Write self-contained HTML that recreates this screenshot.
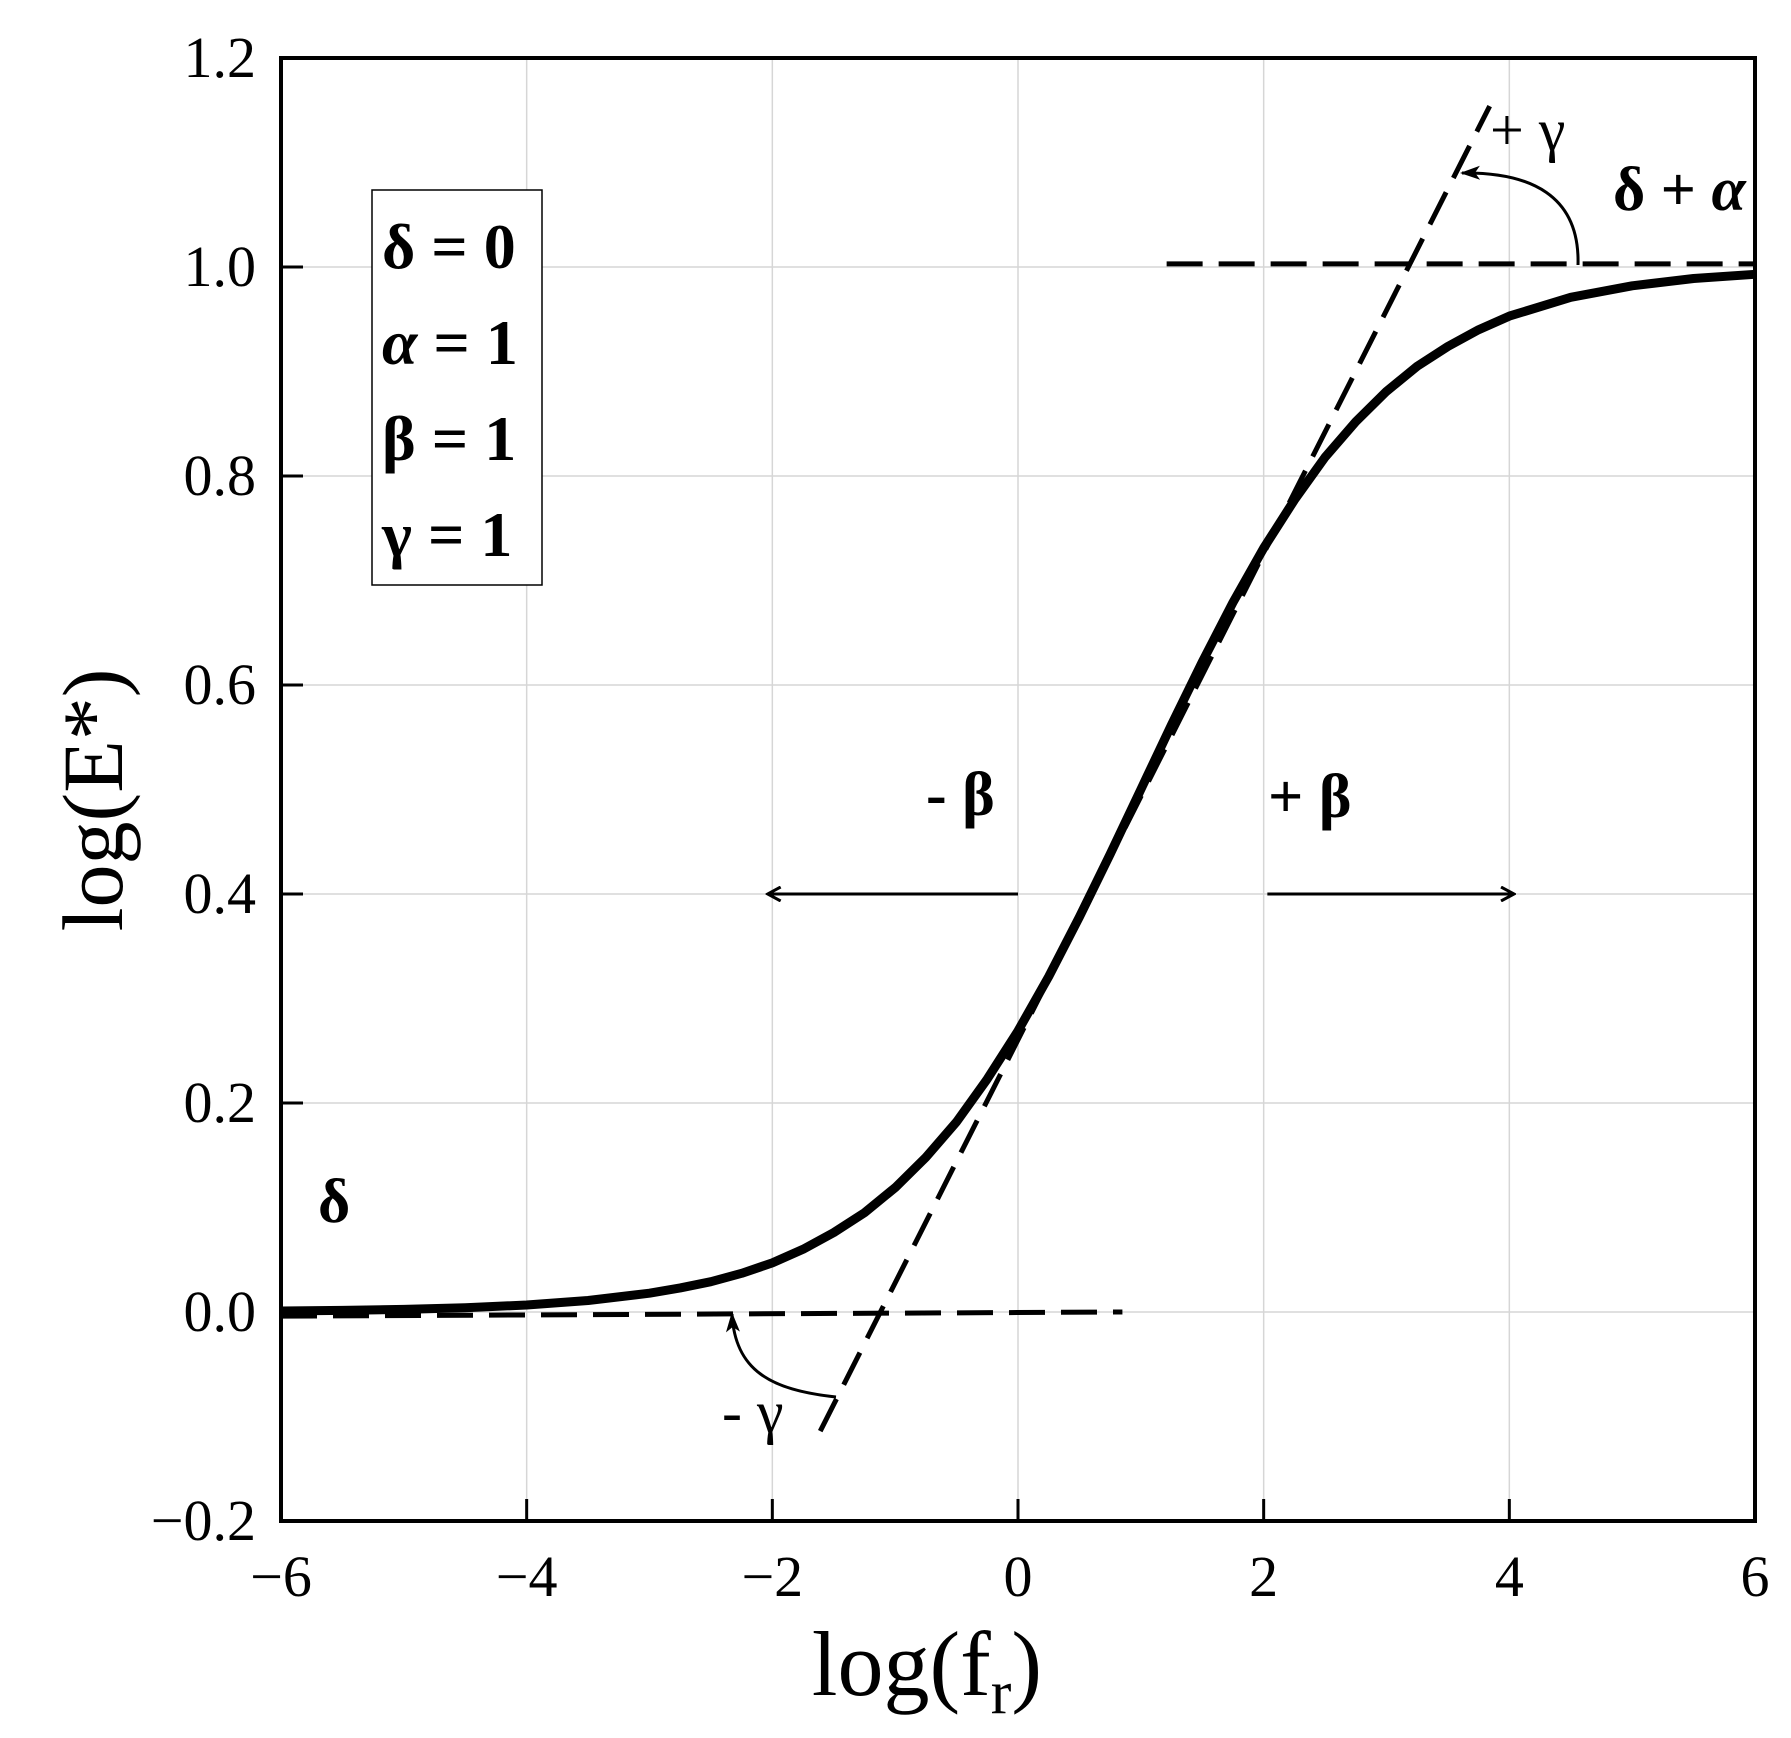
<!DOCTYPE html>
<html><head><meta charset="utf-8"><style>
body{margin:0;background:#fff}
svg{display:block}
text{font-family:"Liberation Serif",serif;fill:#000}
</style></head><body>
<svg id="chart" width="1791" height="1738" viewBox="0 0 1791 1738">
<defs>
<marker id="ah" markerWidth="16" markerHeight="16" refX="13" refY="8" orient="auto" markerUnits="userSpaceOnUse"><path d="M1,1 L14,8 L1,15" fill="none" stroke="#000" stroke-width="3"/></marker>
<marker id="ahf" markerWidth="22" markerHeight="20" refX="18" refY="9" orient="auto" markerUnits="userSpaceOnUse"><path d="M0,2 L20,9 L0,16 L5,9 Z" fill="#000"/></marker>
</defs>
<g id="grid"></g>
<g id="ticks"></g>
<g id="marks"></g>
<rect x="281" y="58" width="1474" height="1463" fill="none" stroke="#000" stroke-width="4"/>
<g>
<rect x="372" y="190" width="170" height="395" fill="#fff" stroke="#000" stroke-width="1.5"/>
<text x="382" y="268" font-size="64" font-weight="bold">δ = 0</text>
<text x="382" y="364" font-size="64" font-weight="bold"><tspan font-style="italic">α</tspan> = 1</text>
<text x="382" y="460" font-size="64" font-weight="bold">β = 1</text>
<text x="382" y="556" font-size="64" font-weight="bold">γ = 1</text>
</g>
<text x="318" y="1222" font-size="62" font-weight="bold">δ</text>
<text x="1613" y="210" font-size="62" font-weight="bold">δ + <tspan font-style="italic">α</tspan></text>
<text x="1490" y="150" font-size="60">+ γ</text>
<text x="722" y="1432" font-size="60">- γ</text>
<text x="926" y="815" font-size="62" font-weight="bold">- β</text>
<text x="1268" y="817" font-size="62" font-weight="bold">+ β</text>
<path d="M1578,265 C1580,195 1530,172 1462,173" fill="none" stroke="#000" stroke-width="3" marker-end="url(#ahf)"/>
<path d="M836,1397 C770,1390 735,1370 732,1314" fill="none" stroke="#000" stroke-width="3" marker-end="url(#ahf)"/>
<text x="927" y="1695" font-size="92" text-anchor="middle">log(f<tspan font-size="62" dy="18">r</tspan><tspan dy="-18">)</tspan></text>
<text transform="translate(122,800) rotate(-90)" font-size="86" text-anchor="middle">log(E*)</text>
</svg>
<script>
const xTicks=[-6,-4,-2,0,2,4,6];
const xTickLabels=["−6","−4","−2","0","2","4","6"];
const yTicks=[-0.2,0,0.2,0.4,0.6,0.8,1.0,1.2];
const yTickLabels=["−0.2","0.0","0.2","0.4","0.6","0.8","1.0","1.2"];
const curveX=[-6,-5.5,-5,-4.5,-4,-3.5,-3,-2.75,-2.5,-2.25,-2,-1.75,-1.5,-1.25,-1,-0.75,-0.5,-0.25,0,0.25,0.5,0.75,1,1.25,1.5,1.75,2,2.25,2.5,2.75,3,3.25,3.5,3.75,4,4.5,5,5.5,6];
const curveY=[0.0009,0.0015,0.0025,0.0041,0.0067,0.011,0.018,0.023,0.029,0.037,0.047,0.060,0.076,0.095,0.119,0.148,0.182,0.223,0.269,0.321,0.378,0.438,0.5,0.562,0.622,0.679,0.731,0.777,0.818,0.852,0.881,0.905,0.924,0.940,0.953,0.971,0.982,0.989,0.993];
const tangentX=[-1.61,3.84];
const tangentY=[-0.114,1.154];
const lowerAsymX=[-6,0.85];
const lowerAsymY=[-0.004,0.0];
const upperAsymX=[1.21,6];
const upperAsymY=[1.003,1.003];
const betaArrowY=0.4;
const minusBetaX=[0,-2.03];
const plusBetaX=[2.03,4.03];

const sx=v=>281+(v+6)/12*1474;
const sy=v=>58+(1.2-v)/1.4*1463;
const NS="http://www.w3.org/2000/svg";
function mk(tag,parent){const e=document.createElementNS(NS,tag);parent.appendChild(e);return e;}
const grid=document.getElementById('grid'),ticks=document.getElementById('ticks'),marks=document.getElementById('marks'),svg=document.getElementById('chart');
xTicks.forEach((v,i)=>{
 const g=mk('line',grid);g.setAttribute('x1',sx(v));g.setAttribute('x2',sx(v));g.setAttribute('y1',58);g.setAttribute('y2',1521);g.setAttribute('stroke','#d6d6d6');g.setAttribute('stroke-width',1.5);
 
 
 const t=mk('line',ticks);t.setAttribute('x1',sx(v));t.setAttribute('x2',sx(v));t.setAttribute('y1',1521);t.setAttribute('y2',1499);t.setAttribute('stroke','#000');t.setAttribute('stroke-width',3);
 
 
 const l=mk('text',svg);l.setAttribute('x',sx(v));l.setAttribute('y',1596);l.setAttribute('font-size',58);l.setAttribute('text-anchor','middle');l.textContent=xTickLabels[i];
 
 
});
yTicks.forEach((v,i)=>{
 const g=mk('line',grid);g.setAttribute('x1',281);g.setAttribute('x2',1755);g.setAttribute('y1',sy(v));g.setAttribute('y2',sy(v));g.setAttribute('stroke','#d6d6d6');g.setAttribute('stroke-width',1.5);
 
 
 const t=mk('line',ticks);t.setAttribute('x1',281);t.setAttribute('x2',303);t.setAttribute('y1',sy(v));t.setAttribute('y2',sy(v));t.setAttribute('stroke','#000');t.setAttribute('stroke-width',3);
 
 
 const l=mk('text',svg);l.setAttribute('x',256);l.setAttribute('y',sy(v)+19);l.setAttribute('font-size',58);l.setAttribute('text-anchor','end');l.textContent=yTickLabels[i];
 
 
});
function poly(xs,ys,w,dash){const p=mk('polyline',marks);p.setAttribute('points',xs.map((x,i)=>sx(x)+','+sy(ys[i])).join(' '));p.setAttribute('fill','none');p.setAttribute('stroke','#000');p.setAttribute('stroke-width',w);if(dash)p.setAttribute('stroke-dasharray',dash);return p;}
const a1=poly(lowerAsymX,lowerAsymY,5,'36 16');


const a2=poly(upperAsymX,upperAsymY,5,'36 16');


const tl=poly(tangentX,tangentY,5,'36 16');


const cv=poly(curveX,curveY,9,null);cv.setAttribute('stroke-linejoin','round');


function arrow(xs){const l=mk('line',marks);l.setAttribute('x1',sx(xs[0]));l.setAttribute('x2',sx(xs[1]));l.setAttribute('y1',sy(betaArrowY));l.setAttribute('y2',sy(betaArrowY));l.setAttribute('stroke','#000');l.setAttribute('stroke-width',3);l.setAttribute('marker-end','url(#ah)');return l;}
const b1=arrow(minusBetaX);


const b2=arrow(plusBetaX);


</script>
</body></html>
